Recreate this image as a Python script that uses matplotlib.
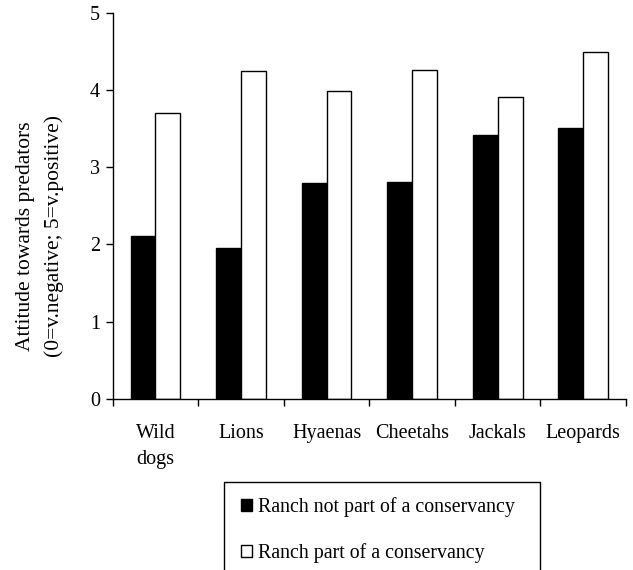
import matplotlib
matplotlib.use("Agg")
import matplotlib.pyplot as plt
import numpy as np
from matplotlib.patches import Rectangle, Patch

categories = ["Wild\ndogs", "Lions", "Hyaenas", "Cheetahs", "Jackals", "Leopards"]
not_conservancy = [2.11, 1.95, 2.79, 2.81, 3.41, 3.51]
conservancy = [3.70, 4.24, 3.98, 4.26, 3.91, 4.49]
series_labels = ["Ranch not part of a conservancy", "Ranch part of a conservancy"]
ylabel = "Attitude towards predators\n(0=v.negative; 5=v.positive)"

plt.rcParams['font.family'] = ['Liberation Serif', 'DejaVu Serif']

fig = plt.figure(figsize=(6.33, 5.70), dpi=100)
ax = fig.add_axes([0.178, 0.3005, 0.811, 0.6772])

x = np.arange(len(categories))
w = 0.29
ax.bar(x - w/2, not_conservancy, width=w, color='black', edgecolor='black', linewidth=1.0, label=series_labels[0])
ax.bar(x + w/2, conservancy, width=w, color='white', edgecolor='black', linewidth=1.0, label=series_labels[1])

ax.set_xlim(-0.5, len(categories) - 0.5)
ax.set_ylim(0, 5)
ax.set_yticks(range(0, 6))
ax.tick_params(axis='y', labelsize=14.5, length=5, width=1, pad=4, direction='out')

ax.set_xticks(x)
ax.set_xticklabels(categories, fontsize=14.5, linespacing=1.5, va='top')
ax.tick_params(axis='x', which='major', length=0, pad=18)
ax.set_xticks(np.arange(-0.5, len(categories)), minor=True)
ax.tick_params(axis='x', which='minor', length=5, width=1, direction='out')

for s in ['top', 'right']:
    ax.spines[s].set_visible(False)
for s in ['left', 'bottom']:
    ax.spines[s].set_linewidth(1.0)

fig.text(0.063, 0.586, ylabel, rotation=90, ha='center', va='center',
         multialignment='center', fontsize=15.5, linespacing=1.65)

# legend frame (cut off at the bottom as in the reference)
fig.patches.append(Rectangle((224/633, -0.05), (540-224)/633, (0.05 + 1 - 481.7/570),
                             transform=fig.transFigure, fill=False, edgecolor='black', linewidth=1.0))
handles = [Patch(facecolor='black', edgecolor='black'), Patch(facecolor='white', edgecolor='black')]
fig.legend(handles, series_labels, loc='upper left', bbox_to_anchor=(241/633, 1 - 497/570),
           frameon=False, fontsize=14.3, handlelength=0.55, handleheight=0.55,
           handletextpad=0.3, labelspacing=1.32, borderpad=0, borderaxespad=0)

fig.savefig("out.png", dpi=100)
